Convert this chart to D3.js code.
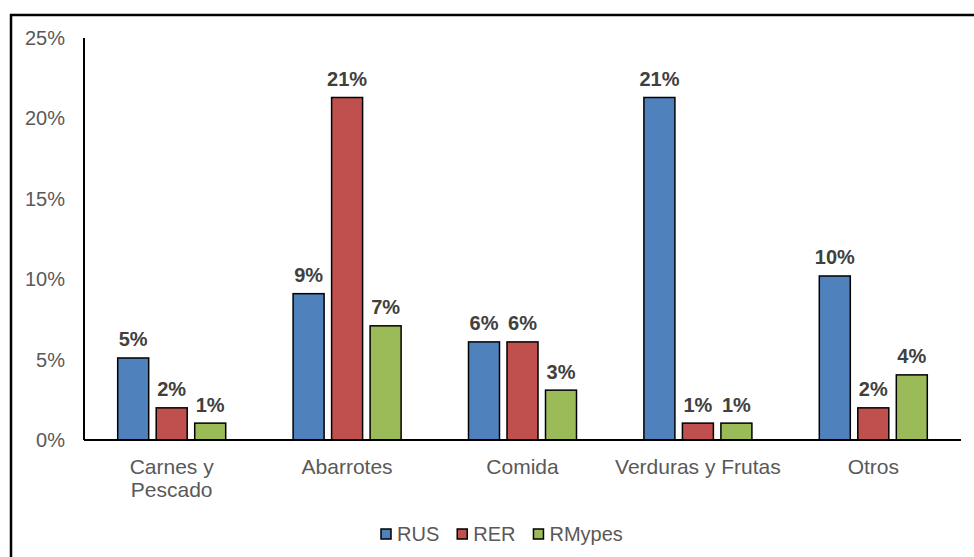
<!DOCTYPE html>
<html>
<head>
<meta charset="utf-8">
<script src="https://cdn.jsdelivr.net/npm/d3@7"></script>
<style>
  html, body { margin: 0; padding: 0; background: #ffffff; }
  svg { display: block; }
  text { font-family: "Liberation Sans", Arial, sans-serif; }
</style>
</head>
<body>
<svg id="chart" width="974" height="557"></svg>
<script>
const categories = [["Carnes y", "Pescado"], ["Abarrotes"], ["Comida"], ["Verduras y Frutas"], ["Otros"]];
const seriesNames = ["RUS", "RER", "RMypes"];
const rusValues = [5.1, 9.1, 6.1, 21.3, 10.2];
const rerValues = [2.0, 21.3, 6.1, 1.05, 2.0];
const rmypesValues = [1.05, 7.1, 3.1, 1.05, 4.05];
const yTicks = [0, 5, 10, 15, 20, 25];
const colors = ["#4F81BD", "#C0504D", "#9BBB59"];

const seriesValues = [rusValues, rerValues, rmypesValues];
const catKeys = categories.map(c => c.join(" "));

const svg = d3.select("#chart");

// outer frame
svg.append("rect")
  .attr("x", 11).attr("y", 15).attr("width", 1000).attr("height", 600)
  .attr("fill", "none").attr("stroke", "#000").attr("stroke-width", 2.5);

const plotLeft = 84, plotRight = 961, plotTop = 38, plotBottom = 440;

const x0 = d3.scaleBand().domain(catKeys).range([plotLeft, plotRight]).paddingInner(0).paddingOuter(0);
const x1 = d3.scaleBand().domain(seriesNames).range([-54, 54]).paddingInner(0.195);
const y = d3.scaleLinear().domain([0, 25]).range([plotBottom, plotTop]);

// y tick labels
const yAxis = d3.axisLeft(y).tickValues(yTicks).tickFormat(d => d + "%").tickSize(0).tickPadding(19);
const gy = svg.append("g").attr("transform", `translate(${plotLeft},0)`).call(yAxis);
gy.select(".domain").remove();
gy.selectAll("text")
  .attr("fill", "#595959")
  .style("font-size", "20px")
  .style("font-family", "'Liberation Sans', Arial, sans-serif");

// bars
const groups = svg.append("g").selectAll("g")
  .data(catKeys)
  .join("g")
  .attr("transform", d => `translate(${x0(d) + x0.bandwidth() / 2},0)`);

groups.each(function(cat, ci) {
  const g = d3.select(this);
  seriesNames.forEach((s, si) => {
    const v = seriesValues[si][ci];
    g.append("rect")
      .attr("x", x1(s))
      .attr("y", y(v))
      .attr("width", x1.bandwidth())
      .attr("height", y(0) - y(v))
      .attr("fill", colors[si])
      .attr("stroke", "#000")
      .attr("stroke-width", 1.5);
    g.append("text")
      .attr("x", x1(s) + x1.bandwidth() / 2)
      .attr("y", y(v) - 11.5)
      .attr("text-anchor", "middle")
      .attr("fill", "#404040")
      .style("font-size", "20px")
      .style("font-weight", "bold")
      .text(Math.round(v) + "%");
  });
});

// axes lines
svg.append("line")
  .attr("x1", plotLeft).attr("x2", plotLeft).attr("y1", plotTop).attr("y2", plotBottom)
  .attr("stroke", "#000").attr("stroke-width", 2);
svg.append("line")
  .attr("x1", plotLeft).attr("x2", plotRight).attr("y1", plotBottom).attr("y2", plotBottom)
  .attr("stroke", "#000").attr("stroke-width", 2);

// category labels
categories.forEach((lines, ci) => {
  const cx = x0(catKeys[ci]) + x0.bandwidth() / 2;
  const t = svg.append("text")
    .attr("x", cx)
    .attr("y", 474)
    .attr("text-anchor", "middle")
    .attr("fill", "#595959")
    .style("font-size", "21px");
  lines.forEach((ln, li) => {
    t.append("tspan")
      .attr("x", cx)
      .attr("dy", li === 0 ? 0 : 23)
      .text(ln);
  });
});

// legend
let lx = 381;
const legend = svg.append("g");
seriesNames.forEach((s, si) => {
  legend.append("rect")
    .attr("x", lx).attr("y", 529).attr("width", 10).attr("height", 10)
    .attr("fill", colors[si]).attr("stroke", "#000").attr("stroke-width", 1.5);
  const t = legend.append("text")
    .attr("x", lx + 16).attr("y", 540.5)
    .attr("fill", "#595959")
    .style("font-size", "20px")
    .text(s);
  const w = t.node().getComputedTextLength();
  lx = lx + 16 + w + 18;
});
</script>
</body>
</html>
